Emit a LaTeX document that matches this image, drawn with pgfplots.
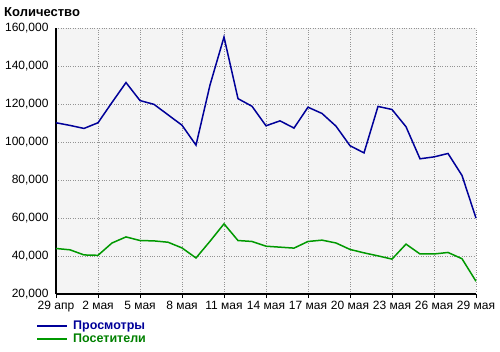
\documentclass[border=0pt]{standalone}
\usepackage{pgfplots}
\pgfplotsset{compat=1.18}
\usepackage{fontspec}
\setmainfont{Liberation Sans}
\definecolor{viewsblue}{HTML}{000099}
\definecolor{visitgreen}{HTML}{009900}
\definecolor{legblue}{HTML}{000099}
\definecolor{leggreen}{HTML}{008000}
\definecolor{plotbg}{HTML}{F4F4F4}
\begin{document}
\begin{tikzpicture}[x=1pt,y=1pt]
\path (0,0) rectangle (500,351);
\node[anchor=west, inner sep=0pt, font=\fontsize{13}{15}\selectfont\bfseries] at (4,339) {Количество};
\begin{axis}[
  at={(56pt,57pt)}, anchor=south west,
  scale only axis, width=420pt, height=265.5pt,
  xmin=0, xmax=30, ymin=20000, ymax=160000,
  axis x line*=bottom, axis y line*=left,
  axis line style={black, line width=1.6pt, -},
  axis background/.style={fill=plotbg},
  xtick={0,3,...,30},
  xticklabels={29 апр,2 мая,5 мая,8 мая,11 мая,14 мая,17 мая,20 мая,23 мая,26 мая,29 мая},
  ytick={20000,40000,...,160000},
  scaled y ticks=false,
  yticklabel style={/pgf/number format/.cd, fixed, 1000 sep={,}, assume math mode=true},
  ticklabel style={font=\fontsize{12}{14}\selectfont},
  xtick style={black, line width=0.8pt},
  ytick style={draw=none},
  major tick length=4pt,
  tick align=outside,
  xtick pos=bottom,
  ytick pos=left,
  grid=major,
  major grid style={gray!85, dotted, line width=0.8pt},
  legend style={at={(-0.05,-0.088)}, anchor=north west, draw=none, fill=none,
    font=\fontsize{12.5}{13}\selectfont\bfseries, row sep=-1pt, inner sep=1pt,
    nodes={inner xsep=5pt}},
  legend cell align=left,
  legend image code/.code={\draw[#1, line width=2pt] (0pt,0pt) -- (30pt,0pt);},
  clip=false,
]
\addplot[viewsblue, line width=1.5pt] coordinates {
(0,110300) (1,108900) (2,107300) (3,110300) (4,121000) (5,131500) (6,122000) (7,120000)
(8,114500) (9,109000) (10,98500) (11,130200) (12,155500) (13,123000) (14,119000)
(15,108700) (16,111300) (17,107500) (18,118500) (19,115200) (20,108500) (21,98200)
(22,94400) (23,118900) (24,117300) (25,108200) (26,91300) (27,92300) (28,94100)
(29,82500) (30,60000)};
\addlegendentry{\textcolor{legblue}{Просмотры}}
\addplot[visitgreen, line width=1.5pt] coordinates {
(0,44000) (1,43300) (2,40600) (3,40400) (4,46900) (5,50100) (6,48200) (7,48000)
(8,47300) (9,44300) (10,39000) (11,47800) (12,57000) (13,48200) (14,47700)
(15,45200) (16,44700) (17,44200) (18,47700) (19,48400) (20,46900) (21,43500)
(22,41700) (23,40100) (24,38400) (25,46300) (26,41100) (27,41100) (28,41900)
(29,38600) (30,26700)};
\addlegendentry{\textcolor{leggreen}{Посетители}}
\end{axis}
\end{tikzpicture}
\end{document}
